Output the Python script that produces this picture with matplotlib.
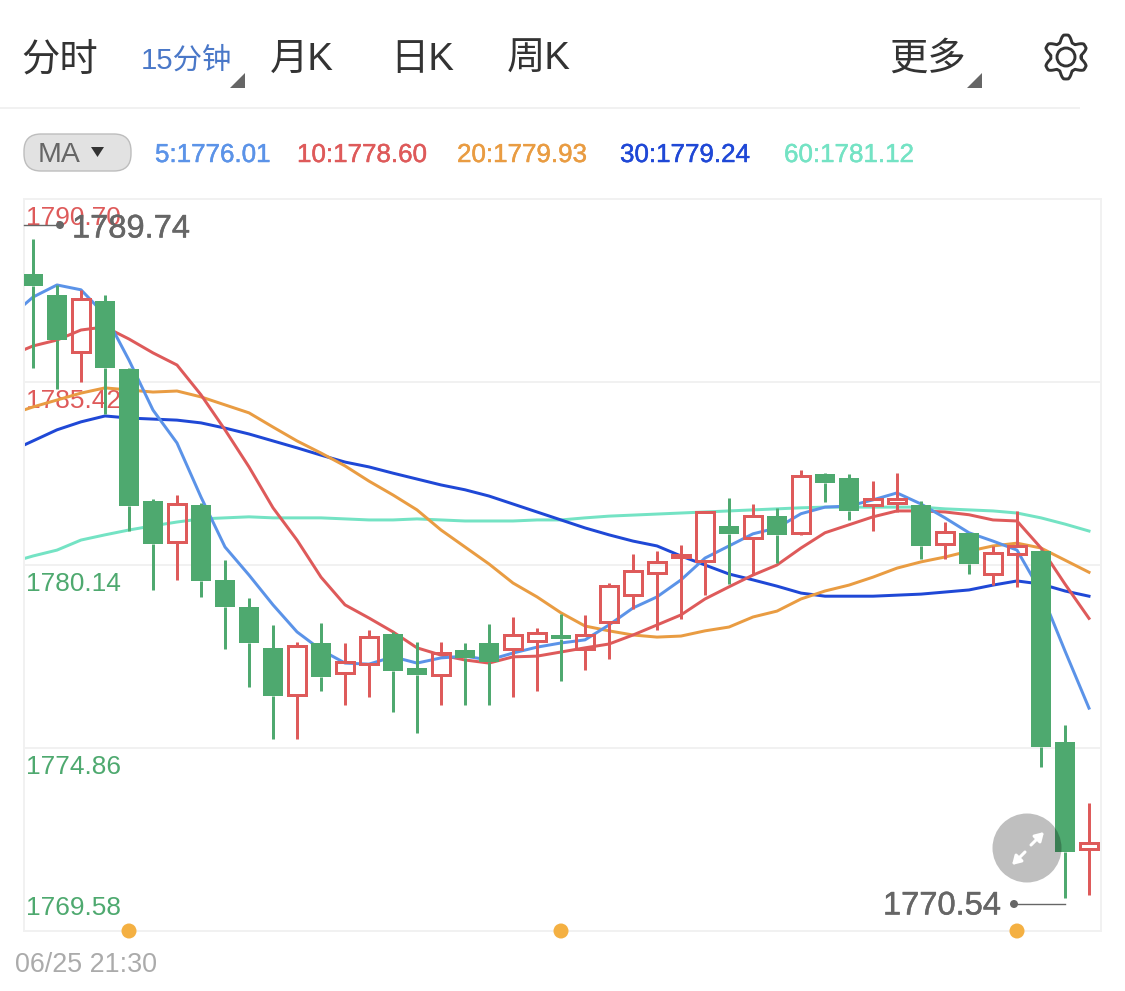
#!/usr/bin/env python3
"""K-line screenshot: 15 minute candles with MA lines and the app toolbar."""
import matplotlib
matplotlib.use("Agg")
import matplotlib.pyplot as plt
import matplotlib.patheffects as pe
from matplotlib.patches import Circle, FancyBboxPatch, Polygon
import numpy as np

W, H = 1125, 991

GREEN = "#4EA96F"
RED = "#DE5A5A"
GREY = "#666666"
GRID = "#F1F1F1"
LATIN = "Liberation Sans"
CJK = [LATIN, "Noto Sans CJK SC", "DejaVu Sans"]
LINE_W = 2.15

opens = [1788.54, 1787.93, 1786.28, 1787.76, 1785.79, 1781.99, 1780.80, 1781.87, 1779.71,
         1778.93, 1777.75, 1776.39, 1777.89, 1777.02, 1777.28, 1778.15, 1777.17, 1776.97,
         1777.69, 1777.89, 1777.72, 1777.95, 1778.12, 1777.72, 1778.50, 1779.28, 1779.91,
         1780.37, 1780.26, 1781.27, 1780.92, 1781.55, 1781.07, 1782.77, 1782.65, 1781.87,
         1781.93, 1781.87, 1780.75, 1781.07, 1779.88, 1780.46, 1780.54, 1775.03, 1771.95]
highs = [1789.55, 1788.22, 1788.08, 1787.93, 1785.82, 1782.05, 1782.16, 1781.93, 1780.28,
         1779.19, 1778.41, 1777.92, 1778.47, 1777.89, 1778.26, 1778.21, 1777.92, 1777.92,
         1777.89, 1778.44, 1778.64, 1778.32, 1778.73, 1778.70, 1779.62, 1780.46, 1780.54,
         1780.72, 1781.67, 1782.07, 1781.90, 1781.79, 1782.88, 1782.80, 1782.77, 1782.56,
         1782.80, 1781.99, 1781.38, 1781.07, 1780.69, 1781.70, 1780.57, 1775.52, 1773.27]
lows = [1785.82, 1785.22, 1785.42, 1784.50, 1781.13, 1779.42, 1779.71, 1779.22, 1777.72,
        1776.62, 1775.11, 1775.11, 1776.51, 1776.11, 1776.33, 1775.90, 1775.29, 1776.11,
        1776.11, 1776.11, 1776.33, 1776.51, 1776.80, 1777.11, 1777.43, 1778.87, 1778.26,
        1778.58, 1779.28, 1779.59, 1779.85, 1780.20, 1781.01, 1781.96, 1781.44, 1781.13,
        1781.67, 1780.31, 1780.31, 1779.88, 1779.56, 1779.50, 1774.31, 1770.53, 1770.61]
closes = [1788.19, 1786.63, 1787.82, 1785.82, 1781.84, 1780.74, 1781.90, 1779.68, 1778.93,
          1777.89, 1776.36, 1777.80, 1776.91, 1777.34, 1778.06, 1777.08, 1776.97, 1777.60,
          1777.46, 1777.34, 1778.12, 1778.18, 1778.01, 1778.12, 1779.53, 1779.97, 1780.23,
          1780.43, 1781.67, 1781.04, 1781.55, 1781.01, 1782.71, 1782.51, 1781.70, 1782.05,
          1782.05, 1780.69, 1781.10, 1780.17, 1780.49, 1780.69, 1774.89, 1771.86, 1772.12]

# MA series start one bar left of the window, so the lines run into the left edge
ma5 = [1787.27, 1787.87, 1788.22, 1788.08, 1787.36, 1786.05, 1784.61, 1783.66, 1782.10, 1780.66,
       1779.85, 1778.99, 1778.21, 1777.69, 1777.31, 1777.28, 1777.49, 1777.31, 1777.46, 1777.51,
       1777.40, 1777.60, 1777.77, 1777.89, 1777.98, 1778.41, 1778.90, 1779.22, 1779.71, 1780.34,
       1780.69, 1781.04, 1781.21, 1781.62, 1781.81, 1781.84, 1782.02, 1782.22, 1781.90, 1781.50,
       1781.07, 1780.83, 1780.57, 1779.36, 1777.66, 1776.01]
ma10 = [1786.17, 1786.46, 1786.63, 1786.92, 1787.01, 1786.66, 1786.26, 1785.91, 1785.05, 1784.04,
        1782.97, 1781.79, 1780.86, 1779.79, 1778.99, 1778.61, 1778.21, 1777.75, 1777.54, 1777.40,
        1777.31, 1777.49, 1777.51, 1777.63, 1777.75, 1777.86, 1778.12, 1778.41, 1778.70, 1779.16,
        1779.51, 1779.85, 1780.14, 1780.63, 1781.07, 1781.30, 1781.53, 1781.70, 1781.70, 1781.67,
        1781.59, 1781.44, 1781.41, 1780.63, 1779.59, 1778.60]
ma20 = [1784.47, 1784.70, 1784.90, 1785.10, 1785.25, 1785.19, 1785.13, 1785.16, 1784.99, 1784.76,
        1784.53, 1784.12, 1783.72, 1783.37, 1783.00, 1782.56, 1782.16, 1781.73, 1781.15, 1780.66,
        1780.17, 1779.62, 1779.22, 1778.76, 1778.38, 1778.24, 1778.12, 1778.06, 1778.09, 1778.24,
        1778.35, 1778.64, 1778.81, 1779.16, 1779.39, 1779.56, 1779.79, 1780.05, 1780.23, 1780.37,
        1780.54, 1780.69, 1780.77, 1780.63, 1780.28, 1779.93]
ma30 = [1783.40, 1783.72, 1784.04, 1784.27, 1784.44, 1784.38, 1784.35, 1784.32, 1784.24, 1784.09,
        1783.92, 1783.72, 1783.52, 1783.31, 1783.11, 1782.97, 1782.79, 1782.62, 1782.45, 1782.31,
        1782.13, 1781.90, 1781.67, 1781.44, 1781.21, 1781.01, 1780.83, 1780.69, 1780.40, 1780.14,
        1779.88, 1779.71, 1779.53, 1779.33, 1779.24, 1779.24, 1779.24, 1779.27, 1779.30, 1779.36,
        1779.42, 1779.56, 1779.68, 1779.59, 1779.39, 1779.24]
ma60 = [1780.20, 1780.40, 1780.57, 1780.86, 1781.01, 1781.15, 1781.27, 1781.38, 1781.47, 1781.50,
        1781.53, 1781.50, 1781.50, 1781.50, 1781.47, 1781.44, 1781.44, 1781.47, 1781.44, 1781.41,
        1781.41, 1781.41, 1781.44, 1781.44, 1781.50, 1781.55, 1781.58, 1781.61, 1781.64, 1781.67,
        1781.70, 1781.73, 1781.76, 1781.79, 1781.81, 1781.81, 1781.81, 1781.81, 1781.81, 1781.76,
        1781.73, 1781.70, 1781.64, 1781.50, 1781.32, 1781.12]

ma_names = ["5:1776.01", "10:1778.60", "20:1779.93", "30:1779.24", "60:1781.12"]
ma_colors = ["#5B93E8", "#DE5A5A", "#E99C42", "#1F48D6", "#74E3C4"]
ma_label_x = [155, 297, 457, 620, 784]

price_ticks = [1790.70, 1785.42, 1780.14, 1774.86, 1769.58]
price_colors = [RED, RED, GREEN, GREEN, GREEN]
label_offsets = [19, 19, 19, 19, -23]   # pixels below the tick level
tab_names = ["分时", "月K", "日K", "周K", "更多"]
tab_x = [21, 270, 390, 507, 889]
day_marks = [4, 22, 41]


def heavier(color, width=0.35):
    # the screenshot font is a touch bolder than Liberation regular
    return [pe.withStroke(linewidth=width, foreground=color)]


fig = plt.figure(figsize=(W / 100, H / 100), dpi=100, facecolor="white")

# Chart panel
ax = fig.add_axes([24 / W, 1 - 931 / H, 1077 / W, 732 / H])
ax.set_xlim(-0.375, 44.5)
ax.set_ylim(price_ticks[-1], price_ticks[0])
ax.set_yticks(price_ticks)
ax.set_xticks([])
ax.tick_params(left=False, labelleft=False)
ax.grid(True, axis="y", color=GRID, lw=1.4, zorder=0)
for s in ax.spines.values():
    s.set_color(GRID)
    s.set_linewidth(1.4)

for tick, color, off in zip(price_ticks, price_colors, label_offsets):
    ax.annotate(f"{tick:.2f}", xy=(0, tick), xycoords=("axes fraction", "data"),
                xytext=(1.5, -off * 0.72), textcoords="offset points", color=color,
                fontsize=18.9, family=LATIN, ha="left", va="center", zorder=1)

ma_x = np.arange(-1, 45)
for series, color in zip([ma60, ma30, ma20, ma10, ma5],
                         ["#74E3C4", "#1F48D6", "#E99C42", "#DE5A5A", "#5B93E8"]):
    ax.plot(ma_x, series, color=color, lw=LINE_W, zorder=2, solid_joinstyle="round")

# Candles: green bars are solid and sit on the lines, red ones are hollow
x = np.arange(len(opens))
o, h, l, c = map(np.array, (opens, highs, lows, closes))
top = np.maximum(o, c)
bottom = np.minimum(o, c)
up = c >= o
ax.bar(x[~up], (top - bottom)[~up], bottom=bottom[~up], width=0.85, color=GREEN, lw=0, zorder=3)
ax.bar(x[up], (top - bottom)[up], bottom=bottom[up], width=0.76, facecolor="none",
       edgecolor=RED, lw=LINE_W, zorder=3)
for mask, color in ((~up, GREEN), (up, RED)):
    ax.vlines(x[mask], top[mask], h[mask], color=color, lw=LINE_W, zorder=3)
    ax.vlines(x[mask], l[mask], bottom[mask], color=color, lw=LINE_W, zorder=3)

# Overlay in pixel coordinates for the toolbar and chart furniture
ui = fig.add_axes([0, 0, 1, 1], facecolor="none")
ui.set_xlim(0, W)
ui.set_ylim(H, 0)
ui.axis("off")

for name, tx in zip(tab_names, tab_x):
    ui.text(tx, 60, name, fontsize=27.6, family=CJK, color="#333333", ha="left", va="center",
            weight="light")
ui.text(141, 61, "15分钟", fontsize=21.2, family=CJK, color="#4A78C8", ha="left", va="center",
        weight="light")
for tri_x in (230, 967):
    ui.add_patch(Polygon([(tri_x, 88), (tri_x + 15, 88), (tri_x + 15, 73)], color=GREY, lw=0))
ui.plot([0, 1079], [108, 108], color=GRID, lw=1.4)

# Settings gear
theta = np.linspace(0, 2 * np.pi, 361)
gear_r = 18.6 + 3.4 * np.clip(np.cos(6 * (theta + np.pi / 6)) * 1.25, -1, 1)
ui.plot(1066 + gear_r * np.cos(theta), 57 + gear_r * np.sin(theta), color="#333333", lw=2.1,
        solid_joinstyle="round")
ui.add_patch(Circle((1066, 57), 9, fill=False, ec="#333333", lw=2.1))

# MA selector and current values
ui.add_patch(FancyBboxPatch((24, 134), 107, 37, boxstyle="round,pad=0,rounding_size=17",
                            fc="#E2E2E2", ec="#BDBDBD", lw=1))
ui.text(59.5, 155, "MA", fontsize=20.5, family=LATIN, color=GREY, ha="center", va="center")
ui.add_patch(Polygon([(91, 147), (104, 147), (97.5, 157)], color="#333333", lw=0))
for name, color, lx in zip(ma_names, ma_colors, ma_label_x):
    ui.text(lx, 155, name, fontsize=18.7, family=LATIN, color=color, ha="left", va="center",
            path_effects=heavier(color))

# Highest and lowest markers
ui.plot([24, 60], [225, 225], color=GREY, lw=1)
ui.add_patch(Circle((60, 225), 4, color=GREY, lw=0))
ui.text(72, 229, "1789.74", fontsize=23.5, family=LATIN, color=GREY, ha="left", va="center",
        path_effects=heavier(GREY))
ui.plot([1014, 1065], [904, 904], color=GREY, lw=1)
ui.add_patch(Circle((1014, 904), 4, color=GREY, lw=0))
ui.text(883, 906, "1770.54", fontsize=23.5, family=LATIN, color=GREY, ha="left", va="center",
        path_effects=heavier(GREY))

# Day separators on the bottom edge
for i in day_marks:
    ui.add_patch(Circle((33 + 24 * i, 931), 7.5, color="#F4B042", lw=0))
ui.text(15, 965, "06/25 21:30", fontsize=19.4, family=LATIN, color="#ABABAB", ha="left",
        va="center")

# Fullscreen button
ui.add_patch(Circle((1027, 848), 34.5, color="black", alpha=0.25, lw=0))
for tail, tip in (((1031, 845), (1044, 832)), ((1025, 852), (1012, 865))):
    ui.annotate("", xy=tip, xytext=tail,
                arrowprops=dict(arrowstyle="-|>,head_length=0.5,head_width=0.3", color="white",
                                lw=2.2, shrinkA=0, shrinkB=0))

plt.savefig("out.png", dpi=100)
plt.close()
